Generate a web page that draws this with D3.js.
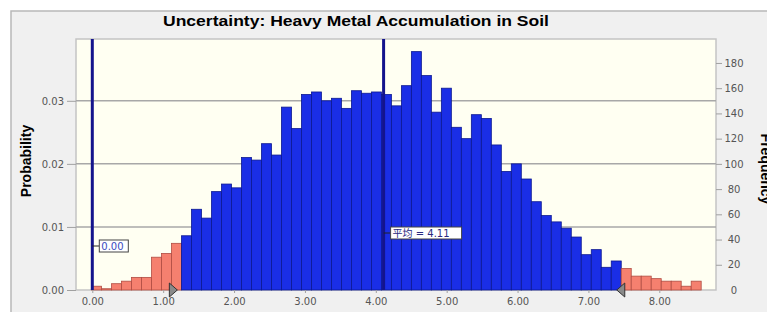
<!DOCTYPE html>
<html>
<head>
<meta charset="utf-8">
<script src="https://cdn.jsdelivr.net/npm/d3@7"></script>
<style>
  body { margin: 0; background: #fff; }
  svg { display: block; font-family: "Liberation Sans", Arial, sans-serif; }
</style>
</head>
<body>
<div id="chart"></div>
<script>
// frequency per bin (5000 trials)
var counts = [3, 1, 5, 7, 10, 10, 26, 29, 37, 43,
              64, 57, 78, 84, 81, 105, 103, 116, 107, 145,
              128, 155, 157, 150, 152, 144, 158, 156, 157, 155,
              146, 162, 189, 170, 141, 160, 129, 120, 139, 136,
              115, 94, 100, 88, 70, 59, 54, 49, 42, 28,
              32, 18, 23, 17, 11, 11, 9, 7, 7, 3, 7];
var binStart = -0.01;
var binWidth = 0.141;
var trials = 5000;
var xTicks = [0, 1, 2, 3, 4, 5, 6, 7, 8];
var probTicks = [0, 0.01, 0.02, 0.03];
var freqTicks = [0, 20, 40, 60, 80, 100, 120, 140, 160, 180];
var meanValue = 4.11;
var zeroValue = 0.00;
var certLow = 1.20, certHigh = 7.40;

var W = 767, H = 312;
var margin = {top: 39, left: 76, right: 51, bottom: 22};
var plotW = W - margin.left - margin.right,
    plotH = H - margin.top - margin.bottom;

var svg = d3.select("#chart").append("svg")
    .attr("width", W).attr("height", H);

// outer panel
svg.append("rect").attr("x", 11).attr("y", 11).attr("width", W).attr("height", H)
    .attr("fill", "#f0f0f0").attr("stroke", "#b8b8b8").attr("stroke-width", 1.5);

svg.append("text")
    .attr("x", 356).attr("y", 26)
    .attr("text-anchor", "middle")
    .style("font-weight", "bold").style("font-size", "15px")
    .attr("textLength", 386).attr("lengthAdjust", "spacingAndGlyphs")
    .text("Uncertainty: Heavy Metal Accumulation in Soil");

var g = svg.append("g")
    .attr("transform", "translate(" + margin.left + "," + margin.top + ")");

var x = d3.scaleLinear().domain([-0.23, 8.80]).range([0, plotW]);
var y = d3.scaleLinear().domain([0, 0.0398]).range([plotH, 0]);
var yF = d3.scaleLinear().domain([0, 0.0398 * trials]).range([plotH, 0]);

g.append("rect").attr("width", plotW).attr("height", plotH)
    .attr("fill", "#fffff2").attr("stroke", "#c4c4c4").attr("stroke-width", 1.5);

// grid
g.selectAll(".grid").data(probTicks.slice(1)).enter().append("line")
    .attr("x1", 0).attr("x2", plotW)
    .attr("y1", function(d) { return y(d); }).attr("y2", function(d) { return y(d); })
    .attr("stroke", "#a8a8a8").attr("stroke-width", 1.5);

var data = counts.map(function(c, i) {
    var x0 = binStart + i * binWidth;
    return {x0: x0, x1: x0 + binWidth, p: c / trials};
});

g.selectAll(".bar").data(data).enter().append("rect")
    .attr("x", function(d) { return x(d.x0); })
    .attr("width", function(d) { return x(d.x1) - x(d.x0); })
    .attr("y", function(d) { return y(d.p); })
    .attr("height", function(d) { return plotH - y(d.p); })
    .attr("fill", function(d) {
        var m = (d.x0 + d.x1) / 2;
        return (m < certLow || m > certHigh) ? "#f5806f" : "#1a2ee6";
    })
    .attr("stroke", function(d) {
        var m = (d.x0 + d.x1) / 2;
        return (m < certLow || m > certHigh) ? "#b04c42" : "#0c1890";
    })
    .attr("stroke-width", 0.8);

// axes
var xAxis = g.append("g").attr("transform", "translate(0," + plotH + ")")
    .call(d3.axisBottom(x).tickValues(xTicks).tickFormat(d3.format(".2f")).tickSize(3).tickPadding(5));
var yAxis = g.append("g")
    .call(d3.axisLeft(y).tickValues(probTicks).tickFormat(d3.format(".2f")).tickSize(9).tickPadding(3));
var yAxisR = g.append("g").attr("transform", "translate(" + plotW + ",0)")
    .call(d3.axisRight(yF).tickValues(freqTicks).tickSize(6).tickPadding(12));
[xAxis, yAxis, yAxisR].forEach(function(a) {
    a.select(".domain").remove();
    a.selectAll("line").attr("stroke", "#a0a0a0");
    a.selectAll("text").attr("fill", "#555").style("font-size", "10px")
        .style("font-family", "Verdana, 'DejaVu Sans', sans-serif");
});
yAxisR.selectAll("text").attr("text-anchor", "middle");
yAxisR.selectAll("line").filter(function(d) { return d === 0; }).remove();

// certainty triangles
function tri(v, dir) {
    var px = x(v), py = plotH;
    var pts = dir > 0
        ? [[px - 8, py - 7], [px, py], [px - 8, py + 7]]
        : [[px + 8, py - 7], [px, py], [px + 8, py + 7]];
    g.append("polygon").attr("points", pts.join(" "))
        .attr("fill", "#8a8a8a").attr("stroke", "#333").attr("stroke-width", 1);
}
tri(certLow, 1);
tri(certHigh, -1);

// marker lines
function marker(v, labelY, txt, w, col) {
    g.append("line").attr("x1", x(v)).attr("x2", x(v)).attr("y1", 0).attr("y2", plotH)
        .attr("stroke", "#14148c").attr("stroke-width", 3);
    g.append("line").attr("x1", x(v)).attr("x2", x(v) + 7).attr("y1", labelY).attr("y2", labelY)
        .attr("stroke", "#222").attr("stroke-width", 1);
    g.append("rect").attr("x", x(v) + 7).attr("y", labelY - 6).attr("width", w).attr("height", 12)
        .attr("fill", "#fff").attr("stroke", "#444").attr("stroke-width", 1);
    g.append("text").attr("x", x(v) + 9).attr("y", labelY + 4)
        .style("font-size", "10px").attr("fill", col)
        .style("font-family", "Verdana, 'DejaVu Sans', 'Noto Sans CJK SC', sans-serif")
        .text(txt);
}
marker(zeroValue, 207, "0.00", 29, "#3a4ac0");
marker(meanValue, 194, "平均 = 4.11", 71, "#2a2a80");

// axis titles
svg.append("text")
    .attr("transform", "translate(31,161) rotate(-90)")
    .attr("text-anchor", "middle")
    .style("font-weight", "bold").style("font-size", "14px")
    .text("Probability");
svg.append("text")
    .attr("transform", "translate(761,169) rotate(90)")
    .attr("text-anchor", "middle")
    .style("font-weight", "bold").style("font-size", "14px")
    .text("Frequency");
</script>
</body>
</html>
